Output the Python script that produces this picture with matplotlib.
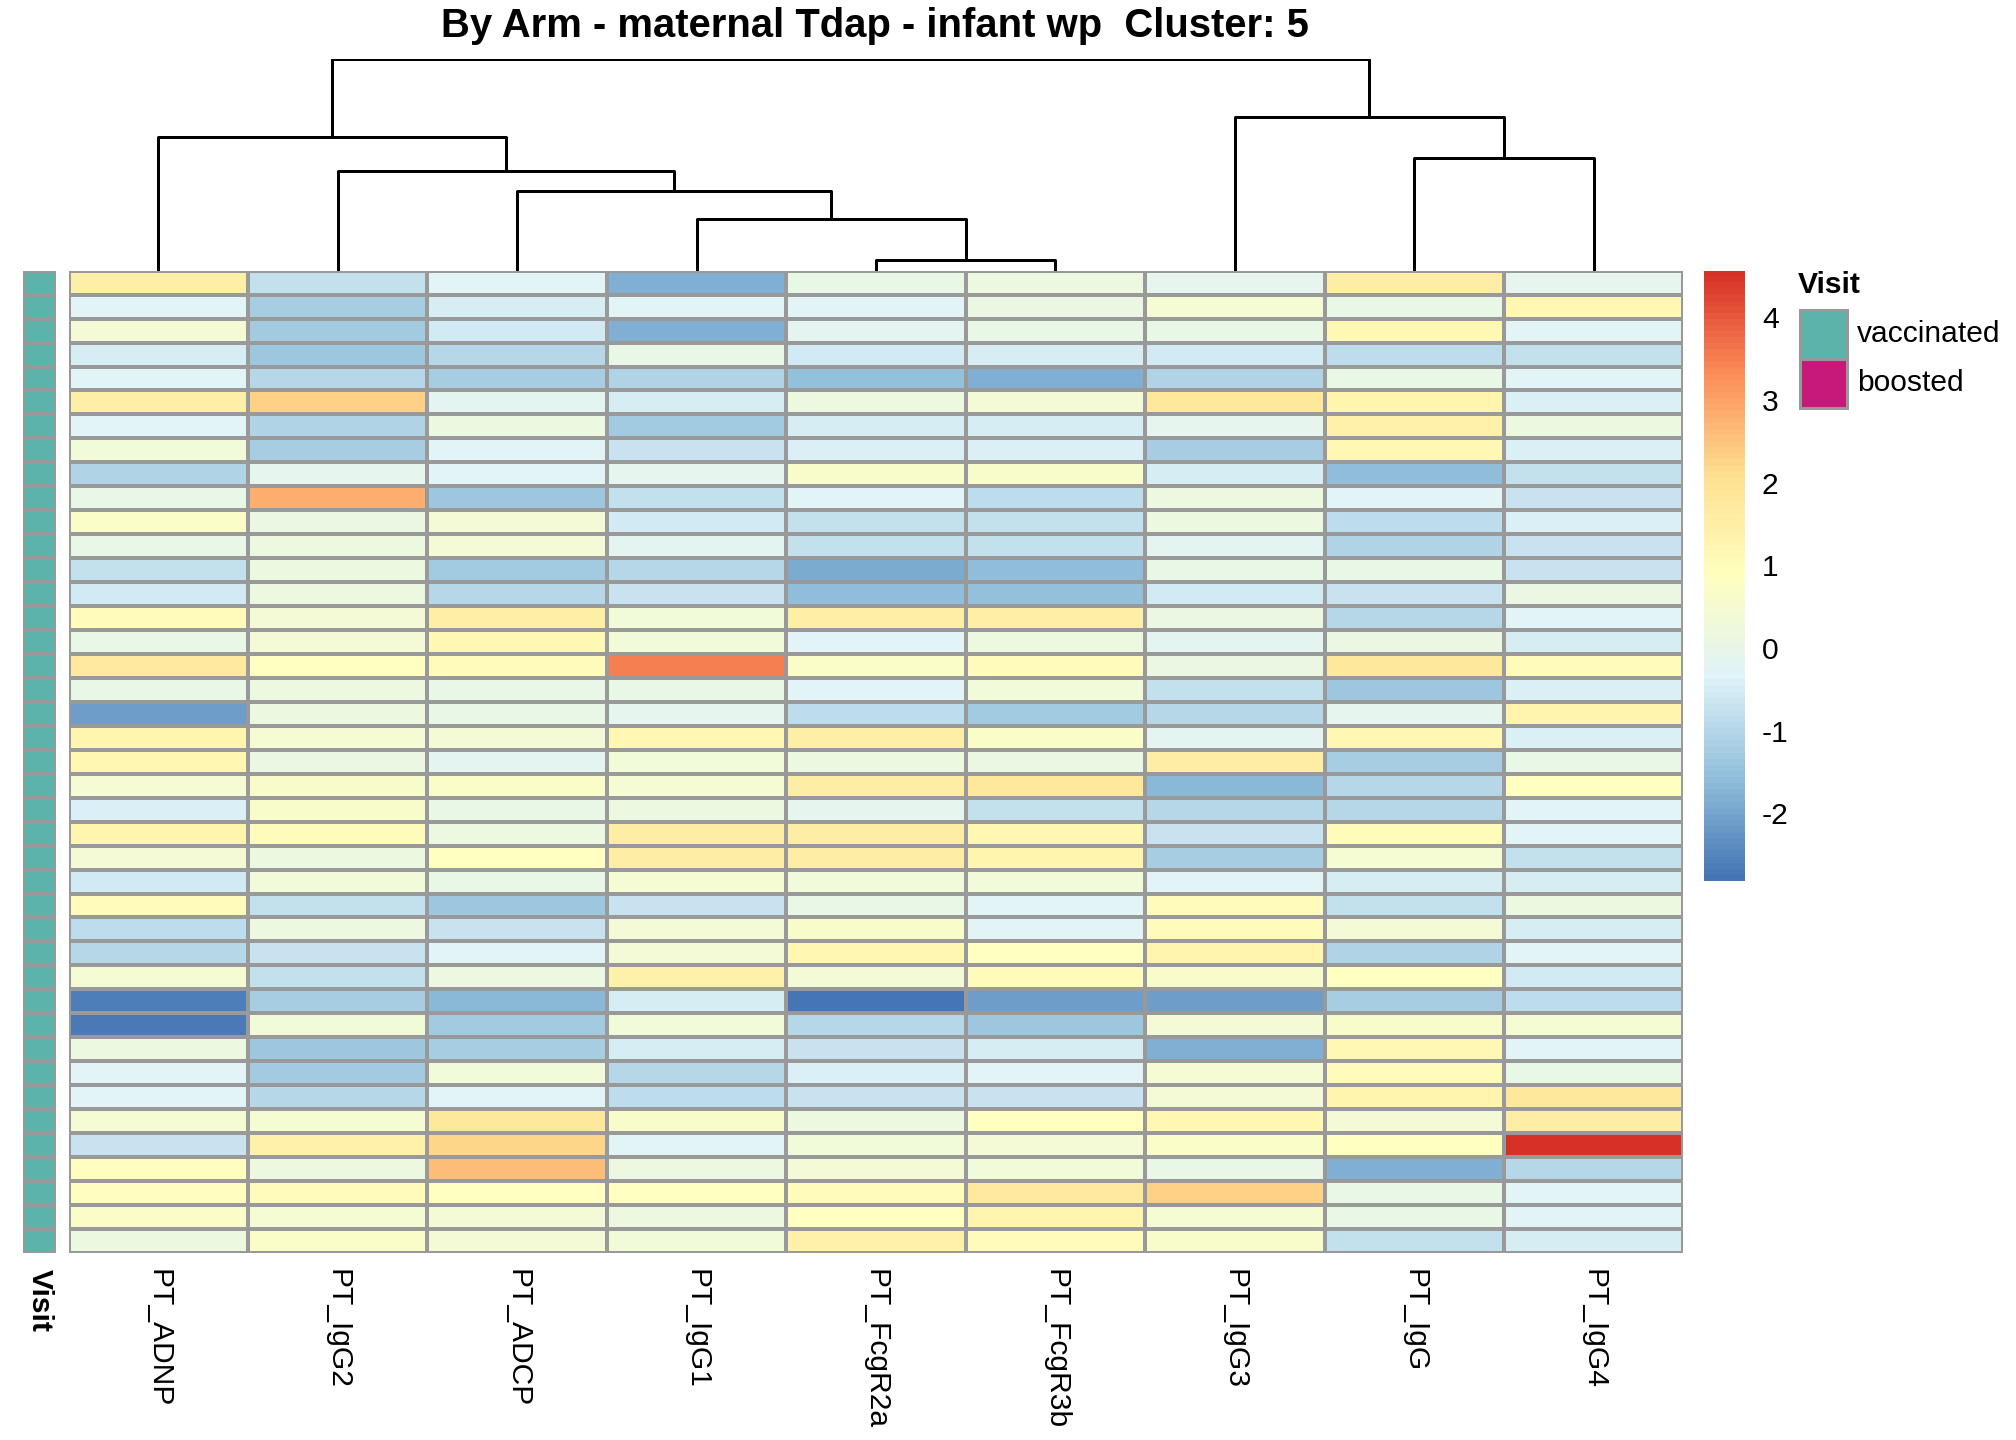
import numpy as np
import matplotlib
matplotlib.use("Agg")
import matplotlib.pyplot as plt
from matplotlib.colors import LinearSegmentedColormap, ListedColormap, Normalize
from matplotlib.patches import Rectangle

plt.rcParams['font.family'] = ['Liberation Sans', 'DejaVu Sans']
plt.rcParams['axes.unicode_minus'] = False

features = ['PT_ADNP', 'PT_IgG2', 'PT_ADCP', 'PT_IgG1', 'PT_FcgR2a',
            'PT_FcgR3b', 'PT_IgG3', 'PT_IgG', 'PT_IgG4']

values = np.array([
    [1.5, -0.8, -0.3, -1.8, 0.0, 0.2, -0.1, 1.6, -0.1],
    [-0.3, -1.2, -0.5, -0.3, -0.3, 0.1, 0.5, 0.0, 1.2],
    [0.4, -1.3, -0.6, -1.8, -0.2, 0.0, 0.0, 1.1, -0.3],
    [-0.5, -1.4, -1.0, 0.0, -0.6, -0.5, -0.6, -0.9, -0.8],
    [-0.3, -1.0, -1.2, -1.1, -1.5, -1.8, -1.1, 0.0, -0.3],
    [1.5, 2.3, -0.2, -0.5, 0.2, 0.4, 1.8, 1.3, -0.4],
    [-0.3, -1.1, 0.2, -1.3, -0.5, -0.5, -0.1, 1.4, 0.2],
    [0.3, -1.2, -0.3, -0.7, -0.4, -0.4, -1.2, 1.1, -0.4],
    [-1.1, -0.1, -0.3, -0.1, 0.6, 0.6, -0.5, -1.6, -0.8],
    [0.0, 2.8, -1.4, -0.8, -0.3, -0.9, 0.2, -0.3, -0.7],
    [0.7, 0.1, 0.4, -0.6, -0.8, -0.8, 0.2, -0.9, -0.4],
    [0.0, 0.2, 0.4, -0.2, -0.8, -0.8, -0.2, -1.1, -0.7],
    [-0.8, 0.2, -1.3, -1.0, -1.9, -1.6, 0.0, 0.0, -0.7],
    [-0.6, 0.2, -1.0, -0.7, -1.6, -1.5, -0.6, -0.7, 0.1],
    [1.0, 0.4, 1.5, 0.3, 1.5, 1.5, 0.1, -1.0, -0.3],
    [0.0, 0.4, 1.1, 0.3, -0.3, 0.2, -0.2, 0.1, -0.5],
    [1.7, 0.8, 1.0, 3.5, 0.7, 1.0, 0.1, 1.8, 1.0],
    [0.0, 0.2, 0.0, 0.0, -0.3, 0.3, -0.8, -1.4, -0.4],
    [-2.1, 0.2, 0.0, -0.1, -0.9, -1.3, -1.0, -0.1, 1.3],
    [1.3, 0.5, 0.4, 1.1, 1.5, 0.7, -0.2, 1.1, -0.4],
    [1.2, 0.1, -0.2, 0.3, 0.2, 0.1, 1.6, -1.2, 0.0],
    [0.5, 0.6, 0.7, 0.5, 1.6, 1.8, -1.7, -1.0, 0.8],
    [-0.4, 0.6, 0.0, 0.2, -0.1, -0.8, -1.0, -1.0, -0.3],
    [1.3, 1.0, 0.2, 1.6, 1.6, 1.2, -0.7, 1.0, -0.3],
    [0.4, 0.2, 0.8, 1.6, 1.6, 1.3, -1.2, 0.5, -0.8],
    [-0.6, 0.3, 0.0, 0.5, 0.3, 0.3, -0.3, -0.5, -0.5],
    [1.0, -0.8, -1.4, -0.7, 0.0, -0.3, 1.0, -0.8, 0.2],
    [-0.9, 0.2, -0.7, 0.4, 0.6, -0.3, 1.0, 0.4, -0.5],
    [-1.0, -0.7, -0.3, 0.4, 1.2, 0.8, 1.3, -1.1, -0.3],
    [0.5, -0.8, 0.2, 1.4, 0.4, 1.0, 0.6, 0.8, -0.6],
    [-2.6, -1.2, -1.7, -0.5, -2.82, -2.1, -2.1, -1.2, -0.9],
    [-2.7, 0.3, -1.3, 0.3, -1.0, -1.4, 0.4, 0.6, 0.5],
    [0.2, -1.4, -1.2, -0.5, -0.7, -0.5, -1.8, 1.1, -0.3],
    [-0.3, -1.3, 0.3, -1.0, -0.4, -0.3, 0.5, 1.0, 0.0],
    [-0.3, -1.0, -0.3, -0.9, -0.7, -0.7, 0.4, 1.3, 1.8],
    [0.5, 0.5, 1.8, 0.6, 0.2, 0.8, 1.2, 0.4, 1.6],
    [-0.7, 1.4, 2.2, -0.3, 0.3, 0.4, 0.7, 0.8, 4.56],
    [0.9, 0.2, 2.6, 0.2, 0.4, 0.3, 0.0, -1.8, -1.0],
    [0.9, 1.0, 0.8, 0.8, 1.0, 1.7, 2.3, 0.0, -0.3],
    [0.7, 0.5, 0.4, 0.2, 0.8, 1.3, 0.5, 0.0, -0.3],
    [0.2, 0.7, 0.4, 0.3, 1.4, 1.0, 0.6, -0.8, -0.5],
])

visit = ['vaccinated'] * values.shape[0]
visit_levels = ['vaccinated', 'boosted']
visit_colors = {'vaccinated': '#5BB3A9', 'boosted': '#C6197A'}

# column dendrogram: leaves 0..8, new nodes 9.. ; (left, right, height)
merges = [(4, 5, 8), (3, 9, 39), (2, 10, 60), (1, 11, 75), (0, 12, 101),
          (7, 8, 85), (6, 14, 116), (13, 15, 160)]

cmap = LinearSegmentedColormap.from_list(
    'rdylbu', ['#4575B4', '#91BFDB', '#E0F3F8', '#FFFFBF', '#FEE090', '#FC8D59', '#D73027'], N=100)
norm = Normalize(values.min(), values.max())

fig = plt.figure(figsize=(14, 10), dpi=144)

L, R, B, T = 0.034, 0.835, 0.130, 0.812
nrow, ncol = values.shape

ax = fig.add_axes([L, B, R - L, T - B])
ax.pcolormesh(values, cmap=cmap, norm=norm, edgecolors='#999999', linewidth=1.2)
ax.set_xlim(0, ncol)
ax.set_ylim(nrow, 0)
ax.set_xticks(np.arange(ncol) + 0.5)
ax.set_xticklabels(features, rotation=-90, fontsize=15, va='top')
ax.tick_params(length=0, pad=8)
ax.set_yticks([])
for s in ax.spines.values():
    s.set_visible(False)

# annotation column
ax_a = fig.add_axes([0.0115, B, 0.0165, T - B])
codes = np.array([[visit_levels.index(v)] for v in visit])
ax_a.pcolormesh(codes, cmap=ListedColormap([visit_colors[k] for k in visit_levels]),
                vmin=0, vmax=1, edgecolors='#999999', linewidth=1.2)
ax_a.set_ylim(nrow, 0)
ax_a.set_xticks([0.5])
ax_a.set_xticklabels(['Visit'], rotation=-90, fontsize=15, fontweight='bold', va='top')
ax_a.tick_params(length=0, pad=8)
ax_a.set_yticks([])
for s in ax_a.spines.values():
    s.set_visible(False)

# dendrogram
ax_d = fig.add_axes([L, T, R - L, 0.959 - T])
pos = {i: i + 0.5 for i in range(ncol)}
hgt = {i: 0 for i in range(ncol)}
for k, (a, b, h) in enumerate(merges):
    n = ncol + k
    ax_d.plot([pos[a], pos[a], pos[b], pos[b]], [hgt[a], h, h, hgt[b]], color='black', lw=1.5)
    pos[n] = (pos[a] + pos[b]) / 2
    hgt[n] = h
ax_d.set_xlim(0, ncol)
ax_d.set_ylim(0, max(m[2] for m in merges))
ax_d.axis('off')

# colorbar
vmin, vmax = values.min(), values.max()
ax_c = fig.add_axes([0.845, 0.388, 0.020, T - 0.388])
grad = np.linspace(vmin, vmax, 100).reshape(-1, 1)
ax_c.imshow(grad, cmap=cmap, norm=norm, origin='lower', aspect='auto',
            extent=[0, 1, vmin, vmax])
ax_c.set_ylim(vmin, vmax)
ax_c.set_xticks([])
ax_c.yaxis.tick_right()
ax_c.set_yticks([-2, -1, 0, 1, 2, 3, 4])
ax_c.tick_params(length=0, labelsize=15, pad=9)
for s in ax_c.spines.values():
    s.set_visible(False)

# legend
fig.text(0.892, 0.802, 'Visit', fontsize=15, fontweight='bold', va='center')
for i, lev in enumerate(visit_levels):
    y0 = 0.768 - i * 0.034
    fig.patches.append(Rectangle((0.893, y0 - 0.017), 0.023, 0.034, transform=fig.transFigure,
                                 facecolor=visit_colors[lev], edgecolor='#999999', lw=1.5))
    fig.text(0.921, y0, lev, fontsize=15, va='center')

fig.text(0.434, 0.982, 'By Arm - maternal Tdap - infant wp  Cluster: 5',
         fontsize=20, fontweight='bold', ha='center', va='center')

fig.savefig('out.png', dpi=144, facecolor='white')
